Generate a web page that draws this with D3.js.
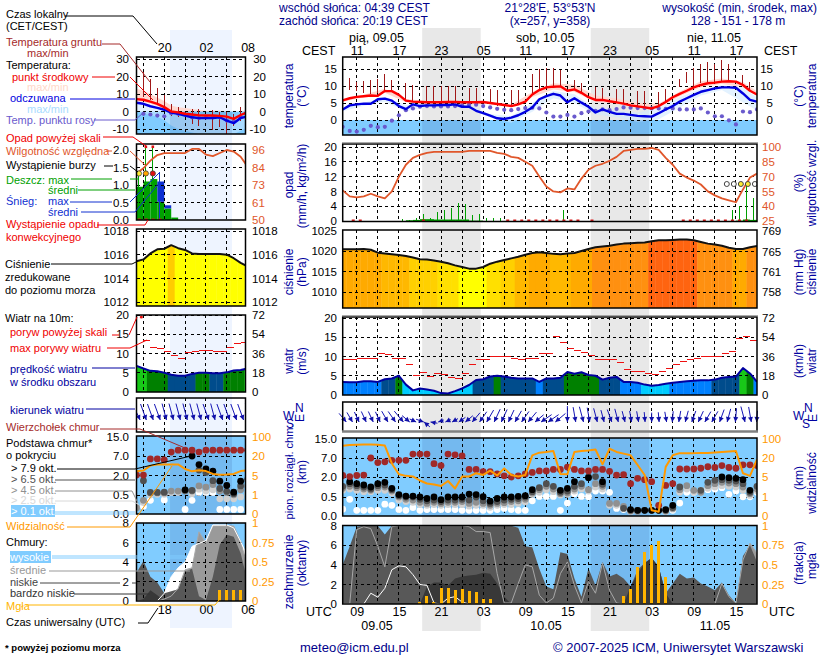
<!DOCTYPE html>
<html>
<head>
<meta charset="utf-8">
<style>
  html, body { margin: 0; padding: 0; background: #fff; }
  text { font-family: "Liberation Sans", Arial, sans-serif; }
</style>
<script src="https://cdnjs.cloudflare.com/ajax/libs/d3/7.8.5/d3.min.js"></script>
</head>
<body>
<div id="chart"></div>
<script>
// ---- main panel data: one value per hour, hour 0 = 09.05 07 UTC ----
var midTemp = [5.8,6.4,6.8,7,7.2,7.1,8.5,8.5,7.4,5.7, 5.4,5.3,5.2,5.2,5.2,5.3,5.3,5.2,5.2,5.2, 5.3,5,4.7,4.4,4.1,4.6,5.4,7.5,8.8,9.6,
  9.8,9.9,8.6,9,8,6.7,5.9,5.9,5.5,5.2, 4.8,4.3,4,3.7,3.4,4.1,5.3,6.7,7.7,8.6, 9.6,10.3,10.8,11,11.3,11.4,11.3,10.3,8.6,7.5];
var feelsTemp = [3.1,4.3,4.6,4.8,4.8,6.1,6.3,5.7,4.1,3.2, 4.6,4.1,4.3,4.3,4.4,4.4,4.6,3.9,3.9,2.7, 2,1.3,.5,.3,.7,1.4,2.4,3.7,6.1,7,
  7.7,7.2,5.2,6.4,5.1,3.9,2.2,3.1,2.4,1.8, 1.8,1.5,1.2,1.1,1,2,3.1,4.1,5.4,6.4, 7.4,8.3,8.8,9.3,9.6,9.6,9.5,7.8,5.9,5.4];
var dewPoint = [-2,-3.2,-3.4,-2.9,-1.7,-2.1,-2,-.2,1.4,2.9, 3.4,3.9,4.1,4,4,4,4.1,4.3,4.5,4.5, 4.1,3.7,3.3,3,2.9,3.2,3.5,3.6,3.4,2.2,
  1,1,1.5,1,2,2.5,2.7,3.1,2.9,3.2, 3.7,3.6,3.5,3.5,3.4,3.4,3.3,3.4,3.1,3.1, 3.1,3.4,2.2,1.1,1.1,-.1,-1.3,2.5,2.3,3.1];
var groundHigh = [null,12.5,11.3,11.6,11.8,12,13.4,11.8,null,10.8, 10.2,null,10,10,10,10,10,null,9.3,9.3, null,9,8.8,null,8.8,8.8,null,13.5,15,15.2,
  15.2,14.7,null,11.8,10.8,null,9.6,9.3,null,9, 9,null,8.6,8.6,null,8.3,9,null,12,14, 15.2,16.6,17.1,16.6,17.6,16.6,null,13.2,11.3,null];
var groundLow = [null,8.8,8.6,8,7.6,8,8.6,8.6,null,5.7, 5.4,null,5.1,5.1,5.3,5.1,5.1,null,5.4,5.4, null,4.7,4.1,null,4.1,4.3,null,7.4,8.6,9.6,
  9.6,9.6,null,9,7.8,null,5.9,5.9,null,5.1, 4.8,null,3.7,3.4,null,4.1,5.3,null,9.8,11, 10,10.8,11.3,11.3,11.5,11.5,null,10.3,8.6,null];

// temperature spread is sampled every 3 hours
var bandHours = [0,3,6,9,12,15,18,21,24,27,30,33,36,39,42,45,48,51,54,57,59];
var midHigh = [6.1,7.4,9.2,6.2,5.6,5.7,5.5,5.2,4.5,8.2,10.8,10.4,7.2,6.3,5,4.8,8.4,11.4,12.2,11.2,8.4];
var midLow = [5.4,6.7,8,5.2,4.9,5,5,4.7,4,6.8,9,8.2,5.4,4.8,3.6,3.6,7,9.6,10.6,9.6,7];
var feelsHigh = [3.6,5.1,6.8,4.4,4.8,4.8,4.3,1.8,1.1,5,8.6,7.6,3.4,2.8,2.2,3.6,6.8,9.2,10.2,9.6,6.6];
var feelsLow = [2.6,4.2,5.4,2.6,3.8,4,3.4,.7,-.8,2.4,6.4,5,1.6,.8,-.6,.2,3.6,7.2,8.8,5.2,2.8];

var humidity = [56,50,49,50,52.6,50,48,55,70,82, 89,92,94,95,95,95,95,95,96,96, 96,96,94,93,90,89,85,81,70,60,
  55,54,58,57,68,77,81,83,86,90, 96,97,98,98,99,97,89,82,73,69, 66,62,55,51,48,46,44,57,69,73];
var rainMax = [0,0,0,0,0,0,0,0,.5,.4, .8,2,.8,2.5,3,3.6,4.8,4.6,1.7,2, .8,.8,.8,0,0,0,0,0,0,0,
  0,2.9,0,0,0,0,0,0,0,0, 0,0,0,0,0,0,0,0,0,0, 0,0,0,0,0,2.9,4.1,9.8,6.2,0];
var rainMean = [0,0,0,0,0,0,0,0,0,.2, .3,.5,.5,.4,.4,.4,.4,.4,.1,.1, 0,0,0,0,0,0,0,0,0,0,
  0,0,0,0,0,0,0,0,0,0, 0,0,0,0,0,0,0,0,0,0, 0,0,0,0,0,0,.1,.4,.3,0];
var convectiveHours = [1,2,11,23,24,25,26,27,28,29,30,31,32,33,35,48,49,50,51,52,53,54,55,56,57];
var stormHours = [54,55,56,57,58];
var stormLevel = [0,0,1,1,0];

var pressure = [1020.4,1020.4,1020.4,1020.5,1020.3,1019.6,1019.4,1019.2,1019,1018.8, 1018.4,1018,1017.9,1017.7,1017.4,1017,1016.5,1016.1,1015.7,1015.7,
  1016.1,1016.9,1017.4,1017.8,1018.2,1018.6,1019.1,1019.5,1019.7,1019.5, 1019.3,1019.2,1019.4,1019.5,1020,1020.5,1020.9,1021.1,1021.3,1021.6,
  1021.8,1021.9,1022,1022.1,1022.4,1022.6,1022.6,1022.7,1022.8,1022.8, 1022.6,1022.2,1021.8,1021.6,1021.3,1020.8,1020.5,1020.5,1020.9,1021.2];
var windSpeed = [3.4,3.3,3.3,3.6,3.6,3.4,4.1,4.3,5,2.7, 1.2,1.7,1.4,1.1,.5,.4,1,1.7,2.6,3.9, 4.1,4.8,5,4.8,4.5,4.3,4.3,4.3,3.4,4.3,
  4.3,4.5,5.98,5.5,5.9,5.2,5,4,4.5,4.7, 3.4,3.4,3.2,2.7,2.4,2.6,2.9,3.2,3.4,3.6, 3.7,3.8,3.8,4,4.5,4.7,4.8,7,5.6,3.4];
var gustSpeed = [9.1,9.3,9.6,9.6,9.6,10.7,10.4,9.6,9.6,8, 5.1,5.9,4.8,5.6,5.4,4.6,4.3,5.6,7.8,9.3, 9.1,9.9,9.9,9.9,9.6,9.3,9.6,9.6,10.9,10.7,
  15.3,13.6,12.2,11.6,11.1,10.3,9.1,9.3,9.1,8.4, 6.7,6,6,5.6,5.4,6,7,7.8,8.8,9.3, 9.6,10,10,10,10.7,11.2,14.6,15.2,14.1,null];
var windDir = [320,330,335,335,335,335,330,325,320,310, 295,290,130,100,70,65,60,55,50,40, 35,30,25,25,25,30,35,40,50,55,
  55,50,0,350,345,350,345,345,340,345, 345,350,350,355,0,355,350,5,10,15, 20,25,30,30,20,15,5,345,350,5];

var cloudTop = [2.4,2.1,2.4,2.5,7,5.8,6,6.4,6.4,6.4, 8.6,8.6,8.6,5.5,5,8.6,8.3,7.9,4,4, 3.4,3.4,2.8,2.3,2,2.3,2.8,3.2,3.6,3.6,
  4,4,4.6,4,3.6,3.6,4,4,3.5,2.5, 2.6,1.5,1.9,1.8,1.65,.28,1.37,1.5,4.1,4.1, 4.1,4.3,4.7,4.5,5,4.5,4.3,5.2,5.2,5];
var base79 = [null,1.65,1.5,1.4,1.25,1.5,1.6,1.15,.68,.57, .57,.5,.46,.5,.43,.5,.5,.5,.72,.68, .52,.39,.46,.5,.5,.55,.6,1.05,null,null,
  null,1,1.15,1.65,null,1.95,null,1.65,null,null, null,.17,.15,.15,.15,.15,.17,.28,null,null, null,null,null,null,2,1.95,1.9,1.8,1,null];
var base65 = [1.3,1.5,1.35,1.25,1.1,1.35,1.4,1.05,.6,.5, .5,.44,.4,.42,.38,.42,.42,.44,.42,.5, .4,.33,.38,.42,.44,.46,.5,.9,1.2,1.5,
  1.3,.85,.95,1.3,1.5,2,2.1,1.45,null,null, .2,.15,.15,.15,.15,.15,.15,.22,1.25,null, null,1,1.6,1.75,1.8,1.75,1.7,1.5,.85,1.3];
var base45 = [1.15,1.3,1.2,1.1,1,1.2,1.25,.95,.5,.44, .42,.36,.33,.36,.33,.36,.36,.38,.33,.36, .33,.28,.33,.35,.38,.4,.44,.8,1.05,1.3,
  1.1,.75,.8,1.1,1.3,1.05,1.5,1.3,.33,.33, .25,.13,.12,null,null,null,.13,.2,1.05,1.35, 1,.85,1.35,1.5,1.6,1.55,1.5,1.25,.75,1.1];
var base25 = [1,1.1,1,.9,.9,1,1,.8,.42,.38, .36,.3,.28,.3,.28,.3,.3,.3,.26,.28, .28,.23,.28,.3,.3,.33,.37,.7,.85,1.05,
  .9,.65,.7,.95,1.1,.95,1.25,1.1,.28,.28, .22,.12,null,null,null,null,.12,.18,.85,1.1, .85,.85,1.15,1.25,1.35,1.3,1.25,1,.62,.95];
var base01 = [.18,.44,.15,.15,.15,.15,.31,.28,.17,.15, .22,.15,.17,.17,.17,.17,.17,.15,.15,.15, .15,.15,.17,.2,.17,.15,.15,.4,.54,.54,
  .54,.15,.34,.75,.54,.52,.95,.95,.85,.2, .17,.15,null,null,null,null,null,.15,.34,.85, .85,1,1.05,1.1,1.2,.7,.95,.52,.52,.85];
var visibility = [70,73,74,75,75,74,71,15.7,7.2,5.9, 5.4,4.3,3.7,3.5,3.2,4.2,2.7,5.4,5.4,8, 6.6,10,6.2,11.8,6.6,5.4,6.6,31,42,45,
  49,7.4,7.2,45,49,51,55,15,58,45, 38,31,14.5,6.6,.3,.22,13,31,40,40, 40,41,41,43,45,47,49,8,5.9,19];

var cloudLow = [4,5.9,7.9,8,8,8,7.1,8,8,8, 8,8,8,8,8,8,8,8,8,8, 8,8,8,8,8,7.8,5.9,5.8,3.6,1.8,
  1.5,5.3,5.1,2.6,.75,3.65,1.9,4.3,2.8,3.1, 2.6,1.8,3.5,4.2,4.7,3.8,1.1,2.1,3.1,2.6, 2.7,2.1,1.8,1.4,2.2,.9,.1,4.9,6,4.3];
var cloudVeryLow = [0,0,0,0,0,0,0,0,0,0, 0,0,1.8,2.2,2.2,1.9,2.6,2.8,2.9,3, 3.2,3.1,2.1,.75,0,0,0,0,0,0,
  0,0,0,0,0,0,0,0,0,0, 0,1.8,3.1,4.2,4.7,3.8,1.1,0,0,0, 0,0,0,0,0,0,0,0,0,0];
var cloudMid = [0,0,7.6,7.9,7.7,5.9,3.8,7.9,8,8, 8,8,8,8,8,8,8,8,7.9,7.4, 7.4,7.3,3.1,.1,.1,2.1,4,3.8,.9,.1,
  .6,3.1,4.3,1.9,.1,2.3,1.1,4.2,1.4,.1, 0,0,0,0,0,0,0,0,0,0, 0,0,0,0,2.1,.75,.1,4.5,6.2,5.2];
var cloudHigh = [0,0,0,0,1.1,.7,1.6,3.5,3.9,3.8, 3,2,1.9,.1,0,.6,.75,.2,0,0, 0,0,0,0,0,0,0,0,0,0,
  0,0,0,0,0,0,0,0,0,0, 0,0,0,0,0,0,0,0,0,0, 0,0,0,0,0,0,0,0,0,0];
var fog = [0,0,0,0,0,0,0,0,0,0, 0,.02,.1,.03,.2,.2,.18,.19,.17,.15, .07,.07,0,0,0,0,0,0,0,0,
  0,0,0,0,0,0,0,0,0,0, .1,.19,.47,.67,.755,.8,.35,0,0,0, 0,0,0,0,0,0,0,0,0,0];

// ---- small left panels: one value per hour, from 14 UTC ----
var leftMid = [7.1,6.7,5.6,4.4,2.5,0,-.5,-1.3,-1.7,-2.2,-2.3,-2.3,-2.5,-2.9,-4.2,-2,-.4];
var leftFeels = [5,4.4,3,2.1,1,-.6,-1.3,-2.3,-3.3,-3.8,-3.8,-3.7,-3.3,-5.2,-6.7,-3.7,-2.9];
var leftMidHigh = [13,12,10,8,6,3.5,2.5,2,1.5,1,.5,.5,.5,0,-2,0,1];
var leftMidLow = [6,5.5,4.4,3.2,1.6,-.3,-1,-1.8,-2.5,-3,-3,-3,-3,-4,-5.4,-2.8,-1.5];
var leftFeelsLow = [0,-1,-2,-3,-5,-8,-10,-11,-12,-13,-13,-13,-13,-13,-13,-11,-9];
var leftDew = [null,-1.3,-1.7,-2.3,-2.7,-1,-1.3,-1.7,-3.3,-3.7,-3.3,-3.3,-3.3,-5.2,-5.6,-3.3,null];
var leftGroundHigh = [null,22.7,18.8,13.7,9.2,4.4,2.5,null,1.5,1.5,null,.6,-.4,-.4,-1.4,2.5,null];
var leftGroundLow = [null,8.3,6.3,4,.6,-2.3,-3.3,null,-7,-8,null,-10.6,-9,-12.9,-8,-5.2,null];
var leftHumidity = [80.7,84,89,92.7,94,94,94,94,96.7,96.7,93,92,94,96,95,91.6,85];
var leftRainMean = [.95,1.1,1.17,.52,.33,.07,0,0,0,0,0,0,0,0,0,0];
var leftSnowMean = [0,0,0,.58,.09,0,0,0,0,0,0,0,0,0,0,0];
var leftRainMax = [1.33,2.05,2.05,0,0,0,0,0,0,0,0,0,0,0,0,0];
var leftSnowMax = [0,0,0,1.38,0,0,0,0,0,0,0,0,0,0,0,0];
var leftStormColors = ["#ffee33","#ffa500","#e01010"];
var leftPressure = [1015.44,1015.6,1016.1,1016.45,1016.5,1016.8,1016.55,1016.4,1016.1,1016.05,1016.05,1016.05,1016.05,1016,1015.7,1015.3,1015];
var leftWind = [6.8,6.1,5.5,5.4,5,4.5,4.2,4.2,4.7,5,5,4.9,4.9,5.1,5.6,5.7,6.1];
var leftGust = [null,13.3,11.6,11.3,10.4,9.5,8.7,10.2,10.4,10.7,10.7,10.4,10.4,11.6,12.6,12.9,null];
var leftDir = [335,340,340,340,345,345,345,345,345,345,340,345,340,340,340,340,345];
var leftTop = [2.1,2.1,6.25,6.25,6,8.6,9.4,9.4,9.4,8.6,9.4,9.4,9.4,9.4,9.4,9.4,9.4];
var left79 = [null,null,null,null,null,null,null,.9,7,4.8,3.7,3.1,1.56,1.23,.72,1.56,null];
var left65 = [null,1.6,.7,.7,.72,null,null,.85,.85,3.4,2.8,1.6,1,.78,.6,1.2,1.7];
var left45 = [.16,.36,.66,.66,.66,.8,.8,.8,.8,1.2,1.1,1.3,.8,.7,.52,.9,1.2];
var left25 = [.18,.3,.5,.55,.55,.7,.7,null,.6,.95,.8,.9,.4,.4,.4,.45,.6];
var left01 = [null,.2,.36,null,.37,null,null,.12,.36,.7,.7,.7,.12,.12,.12,.12,null];
var leftVis = [8.3,8.8,12.6,13.5,13.5,13.5,13.5,10,8.2,9,8.4,6.2,5.5,5.7,6.2,8.4,9];
var leftLow = [2.9,4.1,2.5,1.9,.8,1,1.2,3,3.3,.5,.1,2.5,5.8,6.8,6.6,4.9,2];
var leftVeryLow = [0,.2,1.1,.6,0,0,0,0,0,0,0,0,0,0,0,0,0];
var leftCloudMid = [0,0,0,0,.2,.5,1.3,3.2,3.4,7.1,5.9,7.7,7.7,7.7,7.7,6.1,3.5];
var leftCloudHigh = [0,0,0,0,.8,2.5,3.4,4,5.6,5.9,6.2,7.8,7.8,7.8,7.5,6.1,4.6];
var leftFog = [0,0,0,0,0,0,0,0,0,0,0,0,.145,.145,.145,.145,0];

// tick labels
var mainTickHours = [2,8,14,20,26,32,38,44,50,56];
var cestLabels = ["11","17","23","05","11","17","23","05","11","17"];
var utcLabels = ["09","15","21","03","09","15","21","03","09","15"];
var leftTickHours = [18,24,30];
var leftLocalLabels = ["20","02","08"];
var leftUtcLabels = ["18","00","06"];
var nightStarts = [11.32,35.32];
var nightEnds = [19.65,43.65];

var blue = "#00008b";
var svg = d3.select("#chart").append("svg").attr("width", 820).attr("height", 660).style("display", "block");

var mainX = d3.scaleLinear().domain([0,59]).range([342.7,757]);
var leftX = d3.scaleLinear().domain([14,29.7]).range([136.5,245.5]);
var mainHours = d3.range(60);
var leftHours = d3.range(14,31);

function label(x, y, str, color, size, anchor, rotate, weight) {
  var t = svg.append("text").attr("x", x).attr("y", y).text(str)
    .attr("fill", color || "#000").attr("font-size", size || 11)
    .attr("text-anchor", anchor || "start");
  if (rotate) t.attr("transform", "rotate(" + rotate + "," + x + "," + y + ")");
  if (weight) t.attr("font-weight", weight);
  return t;
}

function leader(points, color, width) {
  svg.append("path").attr("d", d3.line()(points)).attr("fill", "none")
    .attr("stroke", color).attr("stroke-width", width || 1);
}

// vertical tick text only, grid lines are drawn separately
function yAxis(axisFn, scale, x, values, fmt, color) {
  var g = svg.append("g").attr("transform", "translate(" + x + ",0)")
    .call(axisFn(scale).tickValues(values).tickSize(0).tickPadding(0)
      .tickFormat(fmt || function(d) { return String(d); }));
  g.select(".domain").remove();
  g.selectAll("text").attr("fill", color || "#000").attr("font-size", 11.5)
    .style("font-family", "Liberation Sans");
}

function xAxis(axisFn, scale, y, values, labels) {
  var g = svg.append("g").attr("transform", "translate(0," + y + ")")
    .call(axisFn(scale).tickValues(values).tickSize(0).tickPadding(0).tickFormat(function(d, i) { return labels[i]; }));
  g.select(".domain").remove();
  g.selectAll("text").attr("fill", "#000").attr("font-size", 12.5)
    .style("font-family", "Liberation Sans");
}

// night bands behind everything
nightStarts.forEach(function(s, i) {
  svg.append("rect").attr("x", mainX(s)).attr("y", 28).attr("width", mainX(nightEnds[i]) - mainX(s))
    .attr("height", 603).attr("fill", "#e8e8e8");
});
svg.append("rect").attr("x", 170).attr("y", 30).attr("width", 62).attr("height", 598).attr("fill", "#eef4ff");

var clipCount = 0;
function panel(x, top, bottom) {
  var id = "clip" + (clipCount++);
  svg.append("clipPath").attr("id", id).append("rect")
    .attr("x", x.range()[0]).attr("y", top)
    .attr("width", x.range()[1] - x.range()[0]).attr("height", bottom - top);
  return { x: x, top: top, bottom: bottom, clip: id, g: svg.append("g").attr("clip-path", "url(#" + id + ")") };
}

function nightShade(p, isMain, yTop, opacity) {
  var starts = isMain ? nightStarts : [18.83];
  var ends = isMain ? nightEnds : [27.76];
  starts.forEach(function(s, i) {
    p.g.append("rect").attr("x", p.x(s)).attr("y", yTop)
      .attr("width", p.x(ends[i]) - p.x(s)).attr("height", p.bottom - yTop)
      .attr("fill", "#00004a").attr("opacity", opacity);
  });
}

function grid(p, y, yTicks, hours) {
  var g = p.g.append("g").attr("stroke", "#000").attr("stroke-dasharray", "3,3").attr("shape-rendering", "crispEdges");
  g.selectAll(".h").data(yTicks).enter().append("line")
    .attr("x1", p.x.range()[0]).attr("x2", p.x.range()[1])
    .attr("y1", function(d) { return y(d); }).attr("y2", function(d) { return y(d); });
  g.selectAll(".v").data(hours).enter().append("line")
    .attr("x1", function(d) { return p.x(d); }).attr("x2", function(d) { return p.x(d); })
    .attr("y1", p.top).attr("y2", p.bottom);
}

function frame(p, color) {
  svg.append("rect").attr("x", p.x.range()[0]).attr("y", p.top)
    .attr("width", p.x.range()[1] - p.x.range()[0]).attr("height", p.bottom - p.top)
    .attr("fill", "none").attr("stroke", color || "#000").attr("stroke-width", 1.5);
}

function seriesLine(p, y, hours, values, color, width) {
  p.g.append("path").datum(values)
    .attr("d", d3.line().defined(function(d) { return d !== null; })
      .x(function(d, i) { return p.x(hours[i]); }).y(function(d) { return y(d); }))
    .attr("fill", "none").attr("stroke", color).attr("stroke-width", width)
    .attr("stroke-linejoin", "round");
}

function band(p, y, hours, high, low, color, opacity) {
  p.g.append("path").datum(high)
    .attr("d", d3.area().x(function(d, i) { return p.x(hours[i]); })
      .y0(function(d, i) { return y(low[i]); }).y1(function(d) { return y(d); }))
    .attr("fill", color).attr("opacity", opacity || 1);
}

function filledToBase(p, y, hours, values, color) {
  p.g.append("path").datum(values)
    .attr("d", d3.area().x(function(d, i) { return p.x(hours[i]); })
      .y0(p.bottom).y1(function(d) { return y(d); }))
    .attr("fill", color);
}

function dots(p, y, hours, values, color, r) {
  p.g.selectAll(null).data(values.map(function(v, i) { return { h: hours[i], v: v }; })
      .filter(function(d) { return d.v !== null; }))
    .enter().append("circle")
    .attr("cx", function(d) { return p.x(d.h); }).attr("cy", function(d) { return y(d.v); })
    .attr("r", r).attr("fill", color);
}

// columns coloured by threshold and cut off by the curve above them
function colourColumns(p, y, hours, values, colour) {
  var id = p.clip + "c";
  svg.append("clipPath").attr("id", id).append("path").datum(values)
    .attr("d", d3.area().x(function(d, i) { return p.x(hours[i]); })
      .y0(p.bottom).y1(function(d) { return y(d); }));
  p.g.append("g").attr("clip-path", "url(#" + id + ")").selectAll("rect").data(values).enter().append("rect")
    .attr("x", function(d, i) { return p.x(hours[i] - .5); })
    .attr("width", p.x(1) - p.x(0) + .4)
    .attr("y", p.top).attr("height", p.bottom - p.top)
    .attr("fill", function(d) { return colour(d); });
}

function verticalBars(p, y, hours, high, low, color, width) {
  p.g.selectAll(null).data(high.map(function(v, i) { return { h: hours[i], v: v, l: low[i] }; })
      .filter(function(d) { return d.v !== null; }))
    .enter().append("line")
    .attr("x1", function(d) { return p.x(d.h); }).attr("x2", function(d) { return p.x(d.h); })
    .attr("y1", function(d) { return y(d.v); }).attr("y2", function(d) { return y(d.l); })
    .attr("stroke", color).attr("stroke-width", width)
    .attr("shape-rendering", "crispEdges");
}

function gustDashes(p, y, hours, values) {
  p.g.selectAll(null).data(values.map(function(v, i) { return { h: hours[i], v: v }; }).filter(function(d) { return d.v !== null; }))
    .enter().append("line")
    .attr("x1", function(d) { return p.x(d.h); }).attr("x2", function(d) { return p.x(d.h + 1); })
    .attr("y1", function(d) { return y(d.v); }).attr("y2", function(d) { return y(d.v); })
    .attr("stroke", "#ee1010").attr("stroke-width", 1).attr("shape-rendering", "crispEdges");
}

var pressureColour = d3.scaleThreshold()
  .domain([1016.5,1017.5,1018.5,1019.5,1020.55,1022.3])
  .range(["#ffff00","#ffe000","#ffd000","#ffb800","#ffaa00","#ff9010","#ff6410"]);
var leftPressureColour = d3.scaleThreshold().domain([1016.75]).range(["#ffff00","#ffcc00"]);
var windColour = d3.scaleThreshold().domain([3,3.85,5,6])
  .range(["#00ccff","#0080ff","#004c8c","#008000","#18c818"]);
var arrowLength = d3.scaleLinear().domain([0,6]).range([5,16]).clamp(true);

function drawTemp(p, y, hours, mid, feels, mh, ml, fh, fl, bh, dew, gh, gl, isMain, ticks, gridHours) {
  band(p, y, bh, mh, ml, "#ffd8d0");
  p.g.append("rect").attr("x", p.x.range()[0]).attr("width", p.x.range()[1] - p.x.range()[0])
    .attr("y", y(0)).attr("height", p.bottom - y(0)).attr("fill", "#80ccff");
  band(p, y, bh, fh, fl, "#cce8ff", .55);
  nightShade(p, isMain, y(0), .09);
  grid(p, y, ticks, gridHours);
  verticalBars(p, y, hours, gh, gl, "#a01818", 1);
  dots(p, y, hours, dew, "#6a5acd", 2.1);
  seriesLine(p, y, hours, feels, "#0000e0", 2.4);
  seriesLine(p, y, hours, mid, "#ff0000", 2.4);
}

function drawCloudBase(p, y, hours, top, b79, b65, b45, b25, b01, isMain, ticks, gridHours) {
  p.g.append("rect").attr("x", p.x.range()[0]).attr("y", p.top)
    .attr("width", p.x.range()[1] - p.x.range()[0]).attr("height", p.bottom - p.top).attr("fill", "#80ccff");
  nightShade(p, isMain, p.top, .09);
  grid(p, y, ticks, gridHours);
  dots(p, y, hours, b01, "#ffffff", 3.4);
  dots(p, y, hours, b25, "#d0d0d0", 3.4);
  dots(p, y, hours, b45, "#909090", 3.4);
  dots(p, y, hours, b65, "#505050", 3.4);
  dots(p, y, hours, b79, "#000000", 3.4);
  dots(p, y, hours, top, "#a02828", 3.4);
}

function drawClouds(p, y, frac, hours, high, mid, low, veryLow, fogValues, isMain, ticks, gridHours) {
  p.g.append("rect").attr("x", p.x.range()[0]).attr("y", p.top)
    .attr("width", p.x.range()[1] - p.x.range()[0]).attr("height", p.bottom - p.top).attr("fill", "#80ccff");
  nightShade(p, isMain, p.top, .09);
  filledToBase(p, y, hours, high, "#ffffff");
  filledToBase(p, y, hours, mid, "#9a9a9a");
  filledToBase(p, y, hours, low, "#585858");
  filledToBase(p, y, hours, veryLow, "#383838");
  grid(p, y, ticks, gridHours);
  seriesLine(p, y, hours, mid, "#a8a8a8", 1);
  seriesLine(p, y, hours, high, "#ffffff", 1);
  verticalBars(p, frac, hours, fogValues, fogValues.map(function() { return 0; }), "#ffb400", 3);
}

function drawArrows(p, hours, dirs, speeds, tipY, useSpeed) {
  var g = p.g.append("g");
  hours.forEach(function(h, i) {
    var r = dirs[i] * Math.PI / 180;
    var len = useSpeed ? arrowLength(speeds[i]) : 17;
    var dx = -Math.sin(r), dy = Math.cos(r);
    var tipX = p.x(h) + dx * len / 2;
    g.append("line").attr("x1", tipX - dx * len).attr("y1", tipY - dy * len)
      .attr("x2", tipX).attr("y2", tipY).attr("stroke", "#1515b5").attr("stroke-width", 1);
    g.append("path").attr("d", "M0,0L-2.5,-5L2.5,-5Z").attr("fill", "#1010a8")
      .attr("transform", "translate(" + tipX + "," + tipY + ") rotate(" + dirs[i] + ")");
  });
}

// ================== main column ==================
var gridMain = d3.range(2, 59, 3);

// temperature
var pTemp = panel(mainX, 57, 135);
var yTemp = d3.scaleLinear().domain([0,15]).range([120,69]);
drawTemp(pTemp, yTemp, mainHours, midTemp, feelsTemp, midHigh, midLow, feelsHigh, feelsLow, bandHours, dewPoint, groundHigh, groundLow, true, [0,5,10,15], gridMain);
frame(pTemp);
yAxis(d3.axisLeft, yTemp, 337, [0,5,10,15]);
yAxis(d3.axisLeft, yTemp, 773, [0,5,10,15]);

// precipitation and humidity
var pRain = panel(mainX, 144, 221.5);
var yRain = d3.scaleLinear().domain([0,20]).range([221,147]);
var yHum = d3.scaleLinear().domain([25,100]).range([221,147]);
grid(pRain, yRain, [0,4,8,12,16,20], gridMain);
pRain.g.selectAll(".mean").data(rainMean).enter().append("rect")
  .attr("x", function(d, i) { return mainX(i); }).attr("width", mainX(1) - mainX(0))
  .attr("y", function(d) { return yRain(d); }).attr("height", function(d) { return yRain(0) - yRain(d); })
  .attr("fill", "#00a000");
verticalBars(pRain, yRain, mainHours.map(function(h) { return h + .5; }), rainMax, rainMax.map(function() { return 0; }), "#00a000", 1);
pRain.g.selectAll(".conv").data(convectiveHours).enter().append("rect")
  .attr("x", function(d) { return mainX(d + .5) - 1.5; }).attr("y", yRain(0) - 1.5)
  .attr("width", 3).attr("height", 3).attr("fill", "#d81818");
seriesLine(pRain, yHum, mainHours, humidity, "#e0562a", 1.8);
pRain.g.selectAll(".storm").data(stormHours).enter().append("circle")
  .attr("cx", function(d) { return mainX(d + .7); }).attr("cy", yRain(10))
  .attr("r", 2.5).attr("stroke", "#444").attr("stroke-width", 1)
  .attr("fill", function(d, i) { return stormLevel[i] ? "#ffee33" : "#fff"; });
frame(pRain);
leader([[342,142.8],[758,142.8]], "#888", 1);
yAxis(d3.axisLeft, yRain, 337, [0,4,8,12,16,20]);
yAxis(d3.axisRight, yHum, 762, [25,40,55,70,85,100], null, "#e0562a");

// pressure
var pPres = panel(mainX, 230, 308);
var yPres = d3.scaleLinear().domain([1010,1025]).range([292,230.5]);
var yHg = d3.scaleLinear().domain([757.6,768.8]).range([292,230.5]);
colourColumns(pPres, yPres, mainHours, pressure, pressureColour);
grid(pPres, yPres, [1010,1015,1020], gridMain);
seriesLine(pPres, yPres, mainHours, pressure, "#111", 2);
frame(pPres);
yAxis(d3.axisLeft, yPres, 337, [1010,1015,1020,1025]);
yAxis(d3.axisRight, yHg, 762, [757.6,761.3,765,768.8], d3.format(".0f"));

// wind
var pWind = panel(mainX, 317, 395);
var yWind = d3.scaleLinear().domain([0,20]).range([395,318]);
var yKmh = d3.scaleLinear().domain([0,72]).range([395,318]);
colourColumns(pWind, yWind, mainHours, windSpeed, windColour);
grid(pWind, yWind, [5,10,15,20], gridMain);
gustDashes(pWind, yWind, mainHours, gustSpeed);
seriesLine(pWind, yWind, mainHours, windSpeed, "#0000a0", 2);
frame(pWind);
leader([[342,315.8],[758,315.8]], "#888", 1);
yAxis(d3.axisLeft, yWind, 337, [0,5,10,15,20]);
yAxis(d3.axisRight, yKmh, 762, [0,18,36,54,72]);

// wind direction
var pDir = { x: mainX, top: 402, bottom: 431, g: svg.append("g") };
grid(pDir, yWind, [], gridMain);
drawArrows(pDir, mainHours, windDir, windSpeed, 422, true);
leader([[342.7,431],[342.7,402],[757,402],[757,431]], "#000", 1.5);
leader([[342,431.5],[758,431.5]], "#808080", 2.5);

// cloud base and visibility
var pBase = panel(mainX, 438, 516);
var yBase = d3.scaleLinear().domain([0,.5,2,7,15]).range([516,497,477,458,438.5]);
var yVis = d3.scaleLinear().domain([0,1,5,20,100]).range([516,497,477,458,438.5]);
drawCloudBase(pBase, yBase, mainHours, cloudTop, base79, base65, base45, base25, base01, true, [.5,2,7], gridMain);
seriesLine(pBase, yVis, mainHours, visibility, "#ff9900", 2);
frame(pBase);
yAxis(d3.axisLeft, yBase, 337, [0,.5,2,7,15], d3.format(".1f"));
yAxis(d3.axisRight, yVis, 762, [0,1,5,20,100], null, "#ff9900");

// clouds and fog
var pCloud = panel(mainX, 525.5, 604);
var yCloud = d3.scaleLinear().domain([0,8]).range([604,525.7]);
var yFrac = d3.scaleLinear().domain([0,1]).range([604,525.7]);
drawClouds(pCloud, yCloud, yFrac, mainHours, cloudHigh, cloudMid, cloudLow, cloudVeryLow, fog, true, [2,4,6], gridMain);
frame(pCloud);
yAxis(d3.axisLeft, yCloud, 337, [0,2,4,6,8]);
yAxis(d3.axisRight, yFrac, 762, [0,.25,.5,.75,1], d3.format("~g"), "#ff9900");

xAxis(d3.axisBottom, mainX, 46, mainTickHours, cestLabels);
xAxis(d3.axisBottom, mainX, 607, mainTickHours, utcLabels);

// ================== left column ==================
var gridLeft = [15,18,21,24,27];

var qTemp = panel(leftX, 57, 134);
var zTemp = d3.scaleLinear().domain([-10,30]).range([129,59]);
drawTemp(qTemp, zTemp, leftHours, leftMid, leftFeels, leftMidHigh, leftMidLow, leftFeels, leftFeelsLow, leftHours, leftDew, leftGroundHigh, leftGroundLow, false, [-10,0,10,20,30], gridLeft);
frame(qTemp);
yAxis(d3.axisLeft, zTemp, 129, [-10,0,10,20,30]);
yAxis(d3.axisLeft, zTemp, 266, [-10,0,10,20,30]);

var qRain = panel(leftX, 144, 220);
var zRain = d3.scaleLinear().domain([0,2]).range([220,150]);
var zHum = d3.scaleLinear().domain([50,96]).range([220,150]);
var leftBarHours = d3.range(14,30);
qRain.g.selectAll(".rain").data(leftRainMean).enter().append("rect")
  .attr("x", function(d, i) { return leftX(leftBarHours[i]); }).attr("width", leftX(1) - leftX(0))
  .attr("y", function(d) { return zRain(d); }).attr("height", function(d) { return zRain(0) - zRain(d); })
  .attr("fill", "#00a000");
qRain.g.selectAll(".snow").data(leftSnowMean).enter().append("rect")
  .attr("x", function(d, i) { return leftX(leftBarHours[i]); }).attr("width", leftX(1) - leftX(0))
  .attr("y", function(d, i) { return zRain(d + leftRainMean[i]); }).attr("height", function(d) { return zRain(0) - zRain(d); })
  .attr("fill", "#1030d0");
grid(qRain, zRain, [.5,1,1.5,2], gridLeft);
verticalBars(qRain, zRain, leftBarHours.map(function(h) { return h + .35; }), leftRainMax, leftRainMax.map(function() { return 0; }), "#00a000", 1);
verticalBars(qRain, zRain, leftBarHours.map(function(h) { return h + .35; }), leftSnowMax, leftSnowMax.map(function() { return 0; }), "#1030d0", 1);
qRain.g.selectAll(".conv").data([14,15,16,17]).enter().append("rect")
  .attr("x", function(d) { return leftX(d + .4) - 1.5; }).attr("y", zRain(0) - 1.5)
  .attr("width", 3).attr("height", 3).attr("fill", "#d81818");
seriesLine(qRain, zHum, leftHours, leftHumidity, "#e0562a", 1.8);
qRain.g.selectAll(".burza").data(leftStormColors).enter().append("circle")
  .attr("cx", function(d, i) { return leftX(14.35 + i); }).attr("cy", zRain(1.33))
  .attr("r", 2.6).attr("stroke", "#444").attr("stroke-width", .8)
  .attr("fill", function(d) { return d; });
[15.35,16.35].forEach(function(h) {
  svg.append("rect").attr("x", leftX(h) - 1.3).attr("y", 145.5).attr("width", 2.6).attr("height", 2.6).attr("fill", "#e01010");
});
frame(qRain);
yAxis(d3.axisLeft, zRain, 129, [0,.5,1,1.5,2], d3.format(".1f"));
yAxis(d3.axisRight, zHum, 252, [50,61,73,84,96], null, "#e0562a");

var qPres = panel(leftX, 229, 306);
var zPres = d3.scaleLinear().domain([1012,1018]).range([302,231]);
colourColumns(qPres, zPres, leftHours, leftPressure, leftPressureColour);
grid(qPres, zPres, [1012,1014,1016,1018], gridLeft);
seriesLine(qPres, zPres, leftHours, leftPressure, "#111", 2);
frame(qPres);
yAxis(d3.axisLeft, zPres, 129, [1012,1014,1016,1018]);
yAxis(d3.axisRight, zPres, 252, [1012,1014,1016,1018]);

var qWind = panel(leftX, 315, 392);
var zWind = d3.scaleLinear().domain([0,20]).range([392,315]);
var zKmh = d3.scaleLinear().domain([0,72]).range([392,315]);
colourColumns(qWind, zWind, leftHours, leftWind, windColour);
grid(qWind, zWind, [5,10,15,20], gridLeft);
gustDashes(qWind, zWind, leftHours, leftGust);
seriesLine(qWind, zWind, leftHours, leftWind, "#0000a0", 2);
qWind.g.append("circle").attr("cx", leftX(14.7)).attr("cy", 317).attr("r", 1.6).attr("fill", "#e81010");
frame(qWind);
yAxis(d3.axisLeft, zWind, 129, [0,5,10,15,20]);
yAxis(d3.axisRight, zKmh, 252, [0,18,36,54,72]);

var qDir = panel(leftX, 398, 432);
grid(qDir, zWind, [], gridLeft);
drawArrows(qDir, leftHours, leftDir, leftWind, 420, false);
frame(qDir);

var qBase = panel(leftX, 436, 514);
var zBase = d3.scaleLinear().domain([0,.5,2,7,15]).range([514,495,475.5,456,436.5]);
var zVis = d3.scaleLinear().domain([0,1,5,20,100]).range([514,495,475.5,456,436.5]);
drawCloudBase(qBase, zBase, leftHours, leftTop, left79, left65, left45, left25, left01, false, [.5,2,7], gridLeft);
seriesLine(qBase, zVis, leftHours, leftVis, "#ff9900", 2);
frame(qBase);
yAxis(d3.axisLeft, zBase, 129, [0,.5,2,7,15], d3.format(".1f"));
yAxis(d3.axisRight, zVis, 252, [0,1,5,20,100], null, "#ff9900");

var qCloud = panel(leftX, 523, 601);
var zCloud = d3.scaleLinear().domain([0,8]).range([601,523]);
var zFrac = d3.scaleLinear().domain([0,1]).range([601,523]);
drawClouds(qCloud, zCloud, zFrac, leftHours, leftCloudHigh, leftCloudMid, leftLow, leftVeryLow, leftFog, false, [2,4,6], gridLeft);
frame(qCloud);
yAxis(d3.axisLeft, zCloud, 129, [0,2,4,6,8]);
yAxis(d3.axisRight, zFrac, 252, [0,.25,.5,.75,1], d3.format("~g"), "#ff9900");

xAxis(d3.axisBottom, leftX, 43, leftTickHours, leftLocalLabels);
xAxis(d3.axisBottom, leftX, 605, leftTickHours, leftUtcLabels);

// ================== legend text and leaders ==================
label(6, 18, "Czas lokalny");
label(6, 30, "(CET/CEST)");
leader([[65,16],[133,16],[157,44]], "#000");
label(6, 46, "Temperatura gruntu", "#a52a2a");
label(27, 57, "max/min", "#a52a2a");
leader([[102,44],[120,44],[150,82]], "#a52a2a");
label(6, 69, "Temperatura:");
label(12, 81, "punkt środkowy", "#f00000");
leader([[92,77],[115,77]], "#f00000");
leader([[130,77],[153,100]], "#f00000");
label(27, 91, "max/min", "#ffd8c8");
label(10, 102, "odczuwana", "#0000e0");
leader([[70,99],[135,99]], "#0000e0");
label(27, 113, "max/min", "#a8dcff");
label(6, 124, "Temp. punktu rosy", "#6a5acd");
leader([[94,120],[135,120],[143,113]], "#6a5acd");
label(6, 142, "Opad powyżej skali", "#f00000");
leader([[103,137],[133,137],[146,146]], "#f00000");
label(6, 155, "Wilgotność względna", "#e0562a");
leader([[106,151],[112,151]], "#e0562a");
leader([[130,151],[145,165]], "#e0562a");
label(6, 169, "Wystąpienie burzy");
leader([[104,166],[113,166]], "#000");
leader([[130,166],[138,172]], "#000");
label(6, 184, "Deszcz:  max", "#00a000");
leader([[71,179],[112,179]], "#00a000");
leader([[130,179],[139,179]], "#00a000");
label(48, 194, "średni", "#00a000");
leader([[78,190],[135,190]], "#00a000");
label(6, 205, "Śnieg:", "#1030d0");
label(48, 205, "max", "#1030d0");
leader([[70,202],[112,202]], "#1030d0");
leader([[130,202],[160,172]], "#1030d0");
label(48, 216, "średni", "#1030d0");
leader([[81,212],[135,212],[160,182]], "#1030d0");
label(6, 228, "Wystąpienie opadu", "#f00000");
leader([[97,225],[145,225],[148,220]], "#f00000");
label(6, 241, "konwekcyjnego", "#f00000");
label(5, 268, "Ciśnienie");
label(5, 281, "zredukowane");
label(5, 294, "do poziomu morza");
leader([[51,264],[132,264],[136,262]], "#000");
label(5, 322, "Wiatr na 10m:");
label(10, 336, "poryw powyżej skali", "#f00000");
leader([[112,335],[119,335]], "#f00000");
leader([[129,335],[137,317]], "#f00000");
label(10, 352, "max porywy wiatru", "#f00000");
leader([[107,348],[130,348],[147,340]], "#f00000");
label(10, 373, "prędkość wiatru", "#0000a0");
leader([[92,368],[135,368]], "#0000a0");
label(10, 386, "w środku obszaru", "#0000a0");
label(10, 414, "kierunek wiatru", "#0000a0");
leader([[86,409],[135,409]], "#0000a0");
label(6, 431, "Wierzchołek chmur", "#a52a2a");
leader([[100,429],[140,429],[185,448]], "#a52a2a");
label(6, 447, "Podstawa chmur*");
label(6, 459, "o pokryciu");
label(11, 472, "> 7.9 okt.");
leader([[57,469],[135,469],[191,456]], "#000");
label(11, 483, "> 6.5 okt.", "#505050");
leader([[55,480],[135,480]], "#505050");
label(11, 494, "> 4.5 okt.", "#909090");
leader([[55,491],[132,491],[138,503]], "#909090");
label(11, 504, "> 2.5 okt.", "#d8d8d8");
leader([[55,501],[132,501],[138,504]], "#d8d8d8");
svg.append("rect").attr("x", 11).attr("y", 505).attr("width", 44).attr("height", 12).attr("fill", "#80ccff");
label(11, 515, "> 0.1 okt.", "#fff");
leader([[55,512],[135,512]], "#80ccff");
leader([[55,514],[135,514]], "#80ccff");
label(6, 530, "Widzialność", "#ff9900");
leader([[67,527],[130,527],[172,466]], "#ff9900");
label(6, 546, "Chmury:");
svg.append("rect").attr("x", 10).attr("y", 551).attr("width", 41).attr("height", 12).attr("fill", "#80ccff");
label(10, 561, "wysokie", "#fff");
leader([[52,556],[186,556]], "#80ccff");
leader([[52,558],[186,558]], "#80ccff");
label(10, 574, "średnie", "#999");
leader([[49,571],[190,571]], "#999");
label(10, 586, "niskie", "#444");
leader([[40,583],[120,583]], "#444");
leader([[132,583],[136,583]], "#444");
label(10, 597, "bardzo niskie", "#333");
leader([[74,594],[150,594]], "#333");
label(6, 610, "Mgła", "#ffb400");
leader([[26,605],[215,605],[219,600]], "#ffb400");
label(6, 626, "Czas uniwersalny (UTC)");
leader([[138,623],[148,623],[158,608]], "#000");
label(5, 651, "* powyżej poziomu morza", "#000", 9.5, "start", 0, "bold");

// ================== header and footer ==================
label(279, 12, "wschód słońca: 04:39 CEST", blue, 12);
label(279, 25, "zachód słońca: 20:19 CEST", blue, 12);
label(550, 12, "21°28'E, 53°53'N", blue, 12, "middle");
label(550, 25, "(x=257, y=358)", blue, 12, "middle");
label(817, 12, "wysokość (min, środek, max)", blue, 12, "end");
label(738, 25, "128 - 151 - 178 m", blue, 12, "middle");
label(349, 42, "pią, 09.05", "#000", 12.5);
label(516, 42, "sob, 10.05", "#000", 12.5);
label(687, 42, "nie, 11.05", "#000", 12.5);
label(302, 55, "CEST", "#000", 12.5);
label(764, 55, "CEST", "#000", 12.5);
label(306, 616, "UTC", "#000", 12.5);
label(769, 616, "UTC", "#000", 12.5);
label(377, 630, "09.05", "#000", 12.5, "middle");
label(546, 630, "10.05", "#000", 12.5, "middle");
label(715, 630, "11.05", "#000", 12.5, "middle");
label(300, 652, "meteo@icm.edu.pl", blue, 13);
label(553, 652, "© 2007-2025 ICM, Uniwersytet Warszawski", blue, 13);

// rotated axis titles: text, second line, centre of each
[
  ["temperatura", "(°C)", 96, 96],
  ["opad", "(mm/h, kg/m²/h)", 185, 186],
  ["ciśnienie", "(hPa)", 272, 272],
  ["wiatr", "(m/s)", 361, 361],
  ["zachmurzenie", "(oktanty)", 572, 563]
].forEach(function(t) {
  label(293, t[2], t[0], "#0000a0", 12, "middle", -90);
  label(306, t[3], t[1], "#0000a0", 12, "middle", -90);
});
label(293, 472, "pion. rozciągł. chm.", "#0000a0", 11, "middle", -90);
label(306, 472, "(km)", "#0000a0", 12, "middle", -90);
[
  ["(°C)", "temperatura", 96, 96],
  ["(%)", "wilgotność wzgl.", 183, 183],
  ["(mm Hg)", "ciśnienie", 272, 272],
  ["(km/h)", "wiatr", 361, 361],
  ["(km)", "widzialność", 478, 483],
  ["(frakcja)", "mgła", 563, 566]
].forEach(function(t) {
  label(803, t[2], t[0], "#0000a0", 12, "middle", -90);
  label(816, t[3], t[1], "#0000a0", 12, "middle", -90);
});

// compass letters next to the direction strips
label(283, 420, "W", "#0000a0", 12);
label(295, 412, "N", "#0000a0", 12);
label(286, 428, "S", "#0000a0", 12);
label(304, 422, "E", "#0000a0", 12, "start", -90);
label(793, 420, "W", "#0000a0", 12);
label(804, 412, "N", "#0000a0", 12);
label(802, 428, "S", "#0000a0", 12);
label(817, 422, "E", "#0000a0", 12, "start", -90);
</script>
</body>
</html>
